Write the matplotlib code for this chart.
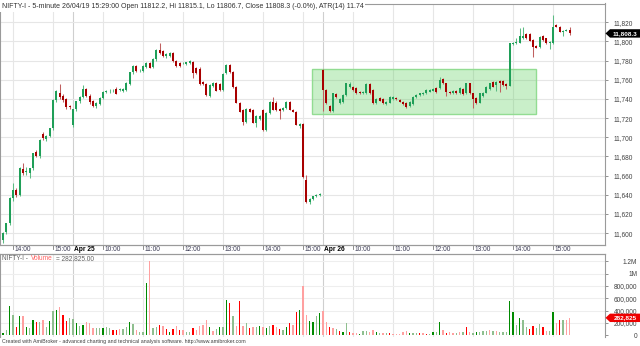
import matplotlib
matplotlib.use('Agg')
import matplotlib.pyplot as plt
import numpy as np
import pandas as pd
from matplotlib.patches import Rectangle, Polygon

plt.rcParams['font.family'] = ['Liberation Sans', 'DejaVu Sans']

# ---------------- data ----------------
day_specs = [('2019-04-24', '13:45'), ('2019-04-25', '09:15'), ('2019-04-26', '09:15')]

opens = [
    11593, 11601, 11611, 11637, 11645, 11640, 11667, 11664, 11663, 11668,
    11685, 11680, 11703.5, 11698, 11701.5, 11709.5, 11739, 11746, 11743, 11740,
    11732.5,
    11713, 11729, 11737.5, 11742, 11750, 11743.5, 11737.5, 11733, 11735, 11741,
    11747, 11748, 11748, 11750.5, 11749.5, 11748.5, 11749, 11756, 11768, 11774,
    11770, 11769.5, 11773.5, 11777.5, 11773.5, 11781.5, 11791.5, 11789.5, 11784.5, 11785,
    11788, 11779.5, 11777.5, 11777, 11776, 11777.5, 11779, 11772, 11771.5, 11758,
    11756, 11743, 11753, 11757, 11756, 11749, 11767, 11775.5, 11768.5, 11752.5,
    11736, 11728, 11716, 11730, 11728, 11714.5, 11719.5, 11728, 11708, 11725,
    11737, 11736, 11730, 11728.5, 11731, 11737, 11728.5, 11726.5, 11711.5, 11714,
    11655, 11632.5, 11636, 11639, 11639.5,
    11770.3, 11749.4, 11732.7, 11727, 11744.9, 11736.2, 11737.2, 11744.2, 11752.9, 11752.9,
    11751.1, 11747.6, 11746.2, 11745.9, 11755.6, 11749.4, 11736.2, 11740.7, 11740, 11734.8,
    11736.2, 11740, 11741.4, 11738.9, 11737.2, 11735.5, 11732.7, 11734.8, 11741.7, 11744.2,
    11744.9, 11745.9, 11747.6, 11748.7, 11751.1, 11751.1, 11760.5, 11756.3, 11747.6, 11745.9,
    11748.3, 11745.9, 11750.1, 11745.9, 11756.3, 11745.9, 11740.7, 11736.2, 11743.1, 11746.6,
    11750.1, 11758.1, 11754.6, 11758.8, 11758.8, 11755.6, 11753.5, 11797, 11798.1, 11798.8,
    11804, 11807.8, 11807.8, 11801.6, 11795.3, 11794.6, 11805.7, 11803.3, 11798.1, 11798.1,
    11817.2, 11815.5, 11810.3, 11811.3, 11812.2]

closes = [
    11600, 11610.5, 11637, 11645, 11640, 11668, 11663, 11665, 11668, 11683.5,
    11680, 11697.5, 11699, 11701, 11709.5, 11739, 11748, 11742, 11738.5, 11732,
    11731.5,
    11729, 11737.5, 11742, 11750.5, 11743.5, 11736.5, 11733, 11736, 11741, 11747,
    11748, 11748.5, 11748.5, 11745.5, 11750, 11750.5, 11756.5, 11768, 11774, 11769,
    11770.5, 11774, 11777.5, 11772.5, 11781.5, 11791.5, 11788, 11784.5, 11787, 11788,
    11779.5, 11774, 11774, 11777.5, 11778, 11779.5, 11767, 11767.5, 11756, 11756,
    11744, 11754.5, 11757, 11748.5, 11749.5, 11766.5, 11775, 11768.5, 11752.5, 11736,
    11726.5, 11716, 11730, 11726.5, 11715, 11722, 11722, 11708, 11725, 11737,
    11728.5, 11728.5, 11727, 11731, 11737, 11728.5, 11726.5, 11713, 11713.5, 11659,
    11632.5, 11636, 11638.5, 11639.7, 11641.3,
    11749.4, 11736.2, 11727, 11745.9, 11741.7, 11739.6, 11744.2, 11756.3, 11755.6, 11749.4,
    11745.9, 11745.9, 11746.9, 11755.6, 11745.9, 11735.5, 11740, 11738.2, 11735.5, 11736.5,
    11742.4, 11741.7, 11739.6, 11737.2, 11734.4, 11732, 11736.5, 11742.4, 11744.2, 11745.9,
    11745.9, 11749.4, 11749.4, 11750.1, 11747.6, 11759.8, 11756.3, 11747.6, 11745.9, 11748.3,
    11745.9, 11751.1, 11744.9, 11756.3, 11745.9, 11739.6, 11736.2, 11745.9, 11746.6, 11752.2,
    11756.3, 11752.9, 11758.1, 11756.3, 11754.6, 11753.6, 11798.1, 11798, 11799.8, 11805.7,
    11805.7, 11803.3, 11800.9, 11794.6, 11793.6, 11805, 11801.6, 11798.1, 11799.8, 11815.5,
    11815.5, 11810.3, 11811.3, 11812, 11808.3]

highs = [
    11601, 11611, 11638, 11652, 11647, 11669, 11673, 11669, 11668.5, 11684,
    11687, 11698, 11705, 11702, 11710, 11740, 11749, 11756, 11745, 11741,
    11734,
    11730, 11738, 11743, 11755, 11751, 11745, 11739, 11737, 11742, 11748,
    11749, 11750, 11750, 11752, 11751, 11751.5, 11757.5, 11768.5, 11775, 11775,
    11771.5, 11775, 11778.5, 11778.5, 11782.5, 11792.5, 11798.5, 11791, 11788, 11789,
    11789, 11780.5, 11778.5, 11778.5, 11779, 11781, 11780, 11773, 11773, 11759,
    11757, 11755.5, 11758, 11758, 11757, 11767, 11776, 11776.5, 11769.5, 11753.5,
    11737, 11729, 11731, 11731, 11729, 11723, 11723, 11729, 11726, 11738,
    11742, 11737.5, 11731, 11732, 11738, 11738, 11729.5, 11727.5, 11714.5, 11715,
    11661, 11637, 11639, 11640.5, 11642,
    11771.5, 11750.5, 11734, 11746.5, 11746, 11740.5, 11745, 11757, 11758.1, 11754,
    11752, 11748.5, 11748, 11756.5, 11756.5, 11750.5, 11741, 11741.5, 11741, 11737.5,
    11743, 11743, 11742.5, 11740, 11738, 11736.5, 11737.5, 11743, 11745, 11746.5,
    11747, 11750, 11750.5, 11751, 11752, 11763.3, 11761.5, 11757, 11748.5, 11749,
    11749, 11752, 11751, 11757, 11757, 11746.5, 11741.5, 11746.5, 11747.5, 11753,
    11757, 11759, 11759, 11759.5, 11759.5, 11756.5, 11798.5, 11799, 11803.3, 11813.7,
    11814.8, 11808.5, 11808.5, 11802.5, 11796, 11806, 11806.5, 11804, 11800.5, 11827.7,
    11818, 11816.5, 11812, 11813, 11815.1]

lows = [
    11590, 11599, 11609, 11634, 11638, 11639, 11661, 11661, 11657.5, 11666,
    11679, 11678, 11697, 11696, 11700, 11708, 11737, 11740, 11737, 11729,
    11729,
    11711, 11727, 11736, 11741, 11742, 11735, 11732, 11731, 11734, 11740,
    11746, 11746.5, 11747, 11745, 11748, 11747, 11748, 11755, 11766, 11768,
    11768, 11768, 11772, 11772, 11772, 11780, 11787, 11784, 11783, 11784,
    11778, 11773.5, 11773, 11776, 11775, 11776.5, 11762, 11766, 11755, 11754.5,
    11743, 11742, 11752, 11748, 11748, 11748, 11766, 11767.5, 11751.5, 11735.5,
    11726, 11712.5, 11715, 11726, 11714.5, 11711, 11718.5, 11707, 11707, 11724,
    11728, 11727.5, 11719.5, 11727, 11730, 11728, 11726, 11712.5, 11710, 11658,
    11631, 11630, 11634.5, 11638, 11638.5,
    11727, 11735, 11726, 11726, 11740.5, 11735, 11736, 11743, 11751.5, 11748.5,
    11745, 11745, 11745.5, 11745, 11745, 11734.5, 11735, 11737.5, 11734.5, 11733.5,
    11735.5, 11739, 11738.5, 11736.5, 11733.5, 11731, 11732, 11734, 11741, 11743.5,
    11744, 11745, 11747, 11748, 11746.5, 11750, 11755.5, 11743.1, 11745, 11745,
    11745, 11745, 11744, 11745, 11745, 11730.2, 11735, 11735.5, 11742, 11746,
    11749, 11752, 11748, 11747.6, 11754, 11750.1, 11753, 11796, 11797, 11798,
    11803, 11802.5, 11800, 11783.5, 11793, 11793.5, 11800.5, 11797.5, 11791.8, 11797.5,
    11815, 11809.5, 11805.7, 11810.5, 11806.7]

volumes_k = [
    43, 86, 481, 330, 130, 319, 319, 135, 114, 249,
    211, 222, 249, 130, 238, 400, 411, 454, 330, 232,
    276,
    265, 195, 151, 168, 211, 205, 124, 114, 124, 114,
    130, 114, 86, 86, 97, 97, 130, 211, 184, 86,
    59, 59, 854, 1211, 114, 141, 168, 151, 97, 59,
    97, 157, 86, 86, 54, 54, 124, 86, 151, 168,
    249, 130, 70, 97, 130, 141, 573, 519, 313, 151,
    551, 151, 205, 114, 130, 130, 151, 141, 114, 151,
    168, 130, 97, 86, 130, 205, 168, 384, 411, 800,
    330, 232, 222, 313, 368,
    395, 216, 130, 114, 97, 76, 59, 195, 54, 32,
    32, 22, 76, 76, 54, 86, 54, 43, 43, 43,
    32, 22, 22, 22, 49, 76, 32, 32, 32, 32,
    32, 22, 22, 54, 54, 216, 86, 43, 54, 43,
    43, 54, 54, 141, 54, 43, 59, 54, 70, 70,
    86, 76, 70, 59, 54, 54, 557, 384, 168, 286,
    254, 130, 108, 151, 114, 178, 130, 76, 76, 384,
    195, 249, 249, 249, 282.825]

vol_codes = (
    "g lg g lg r g lp g lg g r lg lp lg g lg g lp r r lg "
    "lg g lg g lp lp lp lg lg g lg lg r r lp lg lg g lg lp "
    "lg lg g lp lg lg r lp r g r lp r lp lg lg r lp lp lp "
    "lp g lp lg g lg g r lg lp r lp lg r lp lg g lp g lg "
    "r lp r lg g r lp r g lp lp g g lg g "
    "lp lp r lp lg r g lg r lp lp g lg lg lp lp g lg lp lg "
    "r lp lp lp lp lp g lg lg r lp r lg g lg g lp r lp lp "
    "lg lp lg r lp lg g lg lg lg lp lg lp lg lg lg g g lg g "
    "lg lg r r lg lg r lp lg g lp r lg lp lp").split()

box_bars = (92.8, 159.8)      # highlighted consolidation zone (bar index range)
box_prices = (11724.0, 11771.2)

title = ("NIFTY-I - 5-minute 26/04/19 15:29:00 Open 11812.2, Hi 11815.1, "
         "Lo 11806.7, Close 11808.3 (-0.0%), ATR(14) 11.74")
footer = ("Created with AmiBroker - advanced charting and technical analysis "
          "software. http://www.amibroker.com")

# ---------------- derived ----------------
times = []
for d, start in day_specs:
    times += list(pd.date_range(f'{d} {start}', f'{d} 15:25', freq='5min'))
n = len(times)
O = np.array(opens); C = np.array(closes); Hh = np.array(highs); Ll = np.array(lows)
V = np.array(volumes_k) * 1000.0
idx = np.arange(n)
day_starts = [i for i in range(1, n) if times[i].date() != times[i - 1].date()]
hour_ticks = [i for i, t in enumerate(times) if t.minute == 0]

# ---------------- figure ----------------
W, Hpx = 640, 346
fig = plt.figure(figsize=(6.4, 3.46), dpi=100)
fig.patch.set_facecolor('white')


def fax(x0, y0, x1, y1):
    return fig.add_axes([x0 / W, 1 - y1 / Hpx, (x1 - x0) / W, (y1 - y0) / Hpx])


ax = fax(0, 3.5, 605, 245)
axd = fax(0, 245, 605, 254)
axv = fax(0, 254, 605, 337)

XL = (-0.9, 180.6)
for a in (ax, axd, axv):
    a.set_xlim(*XL)
    a.set_facecolor('white')

ax.set_ylim(11587.7, 11839.5)
axv.set_ylim(-27500, 1316600)

grid_c = '#e6e6e6'
day_c = '#cfcfcf'
for a in (ax, axv):
    for i in hour_ticks:
        a.axvline(i, color=grid_c, lw=0.8, zorder=0)
    for i in day_starts:
        a.axvline(i, color=day_c, lw=0.8, zorder=0)

yt = list(range(11600, 11821, 20))
for y in yt:
    ax.axhline(y, color=grid_c, lw=0.8, zorder=0)
vt = [0, 200000, 400000, 600000, 800000, 1000000, 1200000]
for y in vt[1:]:
    axv.axhline(y, color='#eeeeee', lw=0.8, zorder=0)

# highlight box
ax.add_patch(Rectangle((box_bars[0], box_prices[0]), box_bars[1] - box_bars[0],
                       box_prices[1] - box_prices[0], facecolor='#5ccf5c', alpha=0.33,
                       edgecolor='none', zorder=1))
ax.add_patch(Rectangle((box_bars[0], box_prices[0]), box_bars[1] - box_bars[0],
                       box_prices[1] - box_prices[0], facecolor='none',
                       edgecolor='#92dc92', lw=1.0, zorder=1.2))

# candles
up = C >= O
body_col = np.where(up, '#1f9f58', '#a80000')
wick_col = np.where(up, '#5cbc84', '#c06060')
ax.vlines(idx, Ll, Hh, colors=wick_col, lw=0.75, zorder=2)
bot = np.minimum(O, C)
hgt = np.maximum(np.abs(C - O), 0.6)
ax.bar(idx, hgt, bottom=bot, width=0.62, color=body_col, linewidth=0, zorder=3)

# volume
cmap = {'g': '#008a00', 'lg': '#8fbf8f', 'r': '#ff0000', 'lp': '#ffa0a0'}
vcols = [cmap[c] for c in vol_codes]
axv.bar(idx, V, width=0.38, color=vcols, linewidth=0, zorder=2)

# axes styling
spc = '#9a9a9a'
for a in (ax, axv):
    for s in a.spines.values():
        s.set_color(spc)
        s.set_linewidth(0.8)
    a.tick_params(axis='x', which='both', bottom=False, labelbottom=False)
axv.spines['bottom'].set_visible(False)
axd.axis('off')

ax.yaxis.tick_right()
ax.set_yticks(yt)
ax.set_yticklabels([f'{v:,}' for v in yt])
ax.tick_params(axis='y', length=2.2, width=0.6, color='#808080', labelsize=4.7,
               labelcolor='#404040', pad=18)
for t in ax.get_yticklabels():
    t.set_ha('right')

axv.yaxis.tick_right()
axv.set_yticks(vt)
axv.set_yticklabels(['0', '200,000', '400,000', '600,000', '800,000', '1M', '1.2M'])
axv.tick_params(axis='y', length=2.2, width=0.6, color='#808080', labelsize=4.7,
                labelcolor='#404040', pad=21)
for t in axv.get_yticklabels():
    t.set_ha('right')

# date strip
axd.set_ylim(0, 1)
px_per_bar = 605 / (XL[1] - XL[0])
for i in hour_ticks:
    axd.plot([i, i], [1, 0.52], color='#7a7a7a', lw=0.6, clip_on=False)
    axd.text(i + 2 / px_per_bar, 0.45, times[i].strftime('%H:%M'), fontsize=4.8,
             color='#3c3c55', va='center', ha='left')
for i in day_starts:
    axd.text(i + 0.6 / px_per_bar, 0.45, times[i].strftime('%b %d').replace(' 0', ' '),
             fontsize=4.8, color='black', fontweight='bold', va='center', ha='left')
fig.add_artist(plt.Line2D([0, 605 / W], [1 - 245 / Hpx] * 2, color=spc, lw=0.8))
fig.add_artist(plt.Line2D([0, 605 / W], [1 - 254 / Hpx] * 2, color=spc, lw=0.8))

# titles
fig.text(2 / W, 1 - 6.5 / Hpx, title, fontsize=5.0, color='#303030', va='center', ha='left',
         bbox=dict(facecolor='white', edgecolor='none', pad=1.2))
fig.text(2 / W, 1 - 258.5 / Hpx, 'NIFTY-I -', fontsize=4.7, color='#606060', va='center')
fig.text(30.5 / W, 1 - 258.5 / Hpx, 'Volume', fontsize=4.7, color='#ff6060', va='center')
fig.text(55.5 / W, 1 - 258.5 / Hpx, '= 282,825.00', fontsize=4.7, color='#606060', va='center')
fig.text(2 / W, 1 - 341.5 / Hpx, footer, fontsize=3.75, color='#404040', va='center')


# value markers on right axis
def marker(a, value, label, fc):
    disp = a.transData.transform((0, value))
    yc = Hpx - disp[1] * Hpx / fig.bbox.height
    hh = 4.2
    pts = [(605.5, yc), (610, yc - hh), (640, yc - hh), (640, yc + hh), (610, yc + hh)]
    fig.add_artist(Polygon([(x / W, 1 - y / Hpx) for x, y in pts], closed=True,
                           transform=fig.transFigure, facecolor=fc, edgecolor='none'))
    fig.text(625 / W, 1 - yc / Hpx, label, fontsize=4.6, color='white', ha='center',
             va='center', fontweight='bold')


marker(ax, closes[-1], f'{closes[-1]:,.1f}', 'black')
marker(axv, V[-1], f'{int(round(V[-1])):,}', '#ee0000')

fig.savefig('out.png', dpi=100)
